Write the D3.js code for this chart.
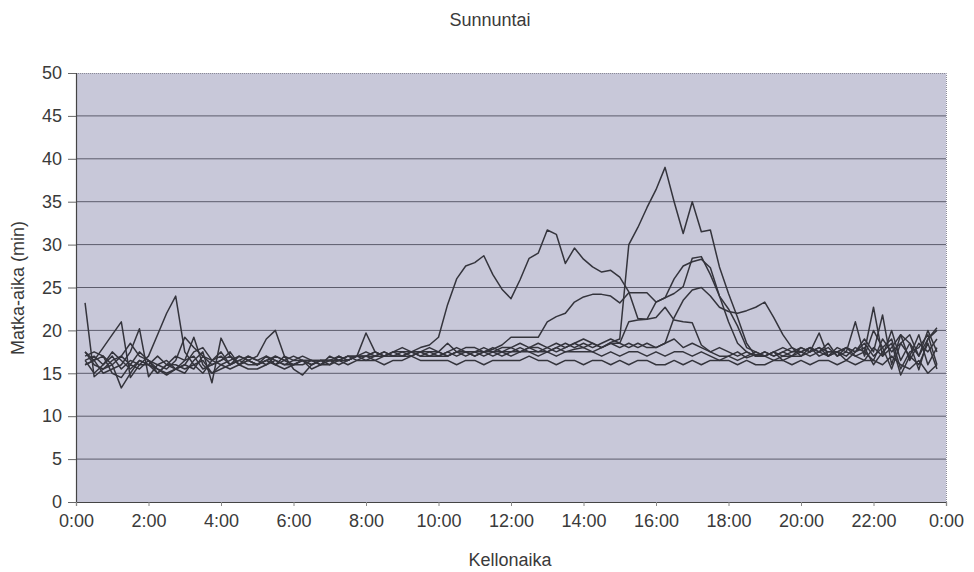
<!DOCTYPE html>
<html>
<head>
<meta charset="utf-8">
<script src="https://cdn.jsdelivr.net/npm/d3@7/dist/d3.min.js"></script>
<style>
  html, body { margin: 0; padding: 0; background: #ffffff; }
  svg { display: block; font-family: "Liberation Sans", Arial, sans-serif; }
</style>
</head>
<body>
<svg id="chart" width="974" height="572"></svg>
<script>
// Travel time (minutes) measured every 15 minutes from 0:15 to 23:45, one row per hour.
const title = "Sunnuntai";
const yTitle = "Matka-aika (min)";
const xTitle = "Kellonaika";
const yTicks = [0, 5, 10, 15, 20, 25, 30, 35, 40, 45, 50];
const xTickHours = [0, 2, 4, 6, 8, 10, 12, 14, 16, 18, 20, 22, 24];
const xTickLabels = ["0:00","2:00","4:00","6:00","8:00","10:00","12:00","14:00","16:00","18:00","20:00","22:00","0:00"];

const series1 = [
  17.5, 16.0, 15.5,
  16.0, 17.0, 18.5, 17.0,
  16.5, 15.5, 14.8, 15.5,
  16.0, 17.5, 18.0, 16.5,
  16.0, 16.5, 17.0, 16.5,
  16.0, 17.0, 16.5, 16.0,
  16.5, 16.5, 16.0, 16.5,
  16.5, 17.0, 16.5, 17.0,
  17.0, 17.5, 17.0, 17.5,
  17.5, 17.5, 18.0, 18.3,
  19.2, 23.0, 26.0, 27.5,
  27.9, 28.7, 26.5, 24.8,
  23.7, 25.9, 28.4, 29.0,
  31.7, 31.2, 27.8, 29.6,
  28.3, 27.4, 26.8, 27.0,
  26.2, 24.5, 21.4, 21.3,
  21.5, 22.7, 21.2, 21.0,
  20.9, 18.3, 17.5, 17.0,
  17.0, 17.5, 16.8, 17.2,
  17.0, 17.5, 17.0, 17.5,
  17.5, 18.0, 17.0, 17.5,
  17.5, 17.0, 18.0, 17.5,
  16.5, 19.0, 17.5, 18.5,
  17.0, 19.5, 16.0, 18.0
];
const series2 = [
  16.5, 15.0, 16.0,
  17.0, 15.5, 16.5, 16.0,
  17.0, 19.5, 22.0, 24.0,
  17.5, 16.0, 15.0, 16.5,
  17.0, 16.0, 16.5, 17.0,
  16.5, 16.0, 17.0, 16.5,
  16.0, 16.5, 16.5, 16.0,
  16.5, 16.5, 17.0, 16.5,
  17.0, 16.5, 17.0, 17.0,
  17.0, 17.5, 17.0, 17.5,
  17.5, 17.0, 17.5, 17.5,
  17.0, 17.5, 17.5, 17.0,
  17.5, 17.5, 18.0, 17.5,
  17.5, 18.0, 17.5, 17.8,
  18.0, 17.5, 18.0, 18.6,
  19.0, 30.0, 32.0, 34.3,
  36.4, 39.0, 35.0, 31.3,
  35.0, 31.5, 31.7, 27.4,
  24.3, 21.5, 18.5, 17.0,
  17.0, 16.5, 17.0, 17.0,
  17.5, 17.0, 17.5, 18.0,
  17.0, 17.5, 17.0, 16.5,
  18.0, 17.0, 20.0, 16.5,
  18.5, 17.0, 19.0, 20.0
];
const series3 = [
  17.0, 17.5, 17.0,
  16.0, 13.3, 15.0, 16.5,
  16.0, 17.0, 16.0, 15.5,
  16.5, 19.2, 16.0, 15.0,
  15.5, 16.0, 17.0, 16.5,
  17.0, 19.0, 20.0, 17.0,
  15.5, 14.8, 16.0, 16.5,
  16.5, 16.0, 16.5, 17.0,
  17.0, 17.0, 17.5, 17.0,
  17.0, 17.5, 17.0, 17.0,
  17.5, 17.0, 17.5, 17.0,
  17.5, 17.5, 17.8, 18.3,
  19.2, 19.2, 19.2, 19.2,
  21.0, 21.6, 22.0, 23.3,
  23.9, 24.2, 24.2, 24.0,
  23.2, 24.4, 24.4, 24.4,
  23.3, 23.8, 24.3, 25.1,
  28.4, 28.6, 26.5, 24.0,
  22.5, 20.5, 18.0, 17.5,
  17.0, 17.5, 16.5, 17.0,
  17.0, 17.5, 18.0, 17.0,
  17.5, 18.0, 17.5, 18.5,
  17.0, 18.0, 19.0, 15.5,
  17.5, 18.0, 19.5, 16.0
];
const series4 = [
  16.0, 16.5, 15.0,
  15.5, 16.0, 17.5, 20.2,
  14.6, 16.0, 16.5, 15.5,
  15.0, 16.5, 17.5, 13.9,
  19.1, 17.0, 16.0, 16.5,
  16.0, 16.5, 17.0, 16.5,
  16.0, 16.5, 16.0, 16.5,
  16.5, 16.5, 17.0, 17.0,
  19.7, 17.5, 17.0, 17.5,
  17.0, 17.5, 17.5, 17.0,
  17.0, 17.5, 17.0, 17.5,
  17.5, 17.0, 17.5, 17.5,
  17.5, 18.0, 17.5, 17.5,
  18.0, 17.5, 18.0, 18.5,
  18.0, 18.5, 18.0, 18.5,
  18.5, 21.0, 21.2, 21.3,
  23.3, 23.8, 26.0, 27.5,
  28.0, 28.3, 27.3, 24.0,
  21.0, 18.5, 17.5, 17.0,
  17.5, 17.0, 17.5, 17.0,
  18.0, 17.5, 19.7, 17.0,
  17.5, 18.0, 17.0, 17.5,
  22.7, 17.0, 18.0, 19.5,
  16.5, 18.5, 17.5, 19.0
];
const series5 = [
  16.5, 17.0, 16.0,
  17.5, 16.5, 15.5, 16.5,
  16.0, 15.0, 16.0, 17.0,
  16.5, 17.0, 15.5, 16.0,
  16.5, 17.0, 16.0, 17.0,
  16.5, 17.0, 16.0, 16.5,
  17.0, 16.5, 16.5, 16.0,
  17.0, 16.5, 17.0, 17.0,
  17.5, 17.0, 17.5, 17.0,
  17.5, 17.0, 17.5, 17.5,
  17.0, 17.5, 18.0, 17.5,
  17.5, 18.0, 17.5, 18.0,
  18.0, 17.5, 18.0, 18.0,
  17.5, 18.0, 18.5, 18.0,
  18.5, 18.0, 18.5, 19.0,
  18.5, 18.0, 18.5, 18.0,
  18.0, 18.5, 21.5, 23.5,
  24.7, 25.0, 24.0, 22.7,
  22.2, 22.0, 22.3, 22.7,
  23.3, 21.5, 19.5, 18.0,
  17.0, 18.0, 17.5, 17.0,
  18.0, 17.5, 21.0, 17.0,
  20.0, 18.0, 15.5, 18.5,
  19.5, 17.0, 20.0, 17.5
];
const series6 = [
  23.2, 14.6, 15.5,
  16.5, 17.0, 16.0, 17.5,
  16.5, 16.0, 15.5, 16.5,
  19.2, 18.0, 17.0, 16.5,
  17.5, 16.0, 16.5, 16.0,
  16.0, 16.5, 16.0, 17.0,
  16.5, 17.0, 16.5, 16.5,
  16.0, 17.0, 16.5, 17.0,
  17.0, 17.5, 17.0, 17.5,
  18.0, 17.5, 17.5, 18.0,
  17.5, 18.5, 17.5, 18.0,
  18.0, 17.5, 18.0, 17.5,
  18.0, 18.5, 18.0, 18.5,
  18.0, 18.5, 18.0, 18.5,
  19.0, 18.5, 18.0, 18.5,
  18.0, 18.5, 18.0, 18.5,
  18.0, 18.5, 19.0, 18.0,
  18.5, 18.0, 17.5, 18.0,
  17.5, 17.0, 17.5, 17.0,
  17.5, 17.0, 17.5, 18.0,
  17.5, 18.0, 17.5, 18.5,
  17.0, 18.0, 17.5, 19.0,
  17.5, 21.8, 16.0, 19.5,
  18.5, 15.4, 19.0, 20.3
];
const series7 = [
  17.5, 16.5, 18.0,
  19.5, 21.0, 14.5, 16.0,
  16.0, 15.5, 15.0, 15.5,
  16.0, 15.5, 17.0, 16.0,
  16.5, 17.5, 16.0, 16.5,
  16.0, 16.5, 16.0, 15.5,
  16.0, 16.0, 16.5, 16.5,
  16.5, 16.5, 16.5, 17.0,
  16.5, 17.0, 17.0, 17.0,
  17.0, 17.0, 17.5, 17.0,
  17.0, 17.0, 17.5, 17.5,
  17.0, 17.5, 17.0, 17.5,
  17.0, 17.5, 17.5, 17.0,
  17.5, 17.0, 17.5, 17.5,
  17.5, 17.5, 17.0, 17.5,
  17.0, 17.5, 17.5, 17.0,
  17.5, 17.0, 17.5, 17.5,
  17.0, 17.5, 17.0, 16.5,
  17.0, 16.5, 17.0, 17.5,
  17.0, 17.5, 18.0, 17.5,
  18.0, 17.5, 18.0, 17.5,
  17.5, 16.5, 17.5, 18.0,
  16.0, 17.5, 18.5, 14.8,
  17.0, 16.0, 18.5, 15.5
];
const series8 = [
  16.0, 16.5, 17.0,
  15.0, 14.5, 16.0, 15.5,
  16.5, 15.0, 16.0, 16.0,
  15.5, 16.0, 16.5, 15.0,
  16.0, 15.5, 16.0, 15.5,
  15.5, 16.0, 16.5, 16.0,
  16.0, 16.5, 15.5, 16.0,
  16.0, 16.5, 16.0, 16.5,
  16.5, 16.5, 16.0, 16.5,
  16.5, 17.0, 16.5, 16.5,
  16.5, 16.5, 16.0, 16.5,
  16.5, 16.0, 16.5, 16.5,
  16.5, 16.5, 17.0, 16.5,
  16.5, 16.0, 16.5, 16.5,
  16.0, 16.5, 16.5, 16.0,
  16.5, 16.0, 16.5, 16.5,
  16.0, 16.0, 16.5, 16.0,
  16.5, 16.0, 16.5, 16.5,
  16.5, 16.0, 16.5, 16.0,
  16.0, 16.5, 16.5, 16.0,
  16.5, 16.0, 16.5, 16.5,
  16.0, 16.5, 16.0, 16.5,
  16.5, 16.0, 17.0, 16.0,
  15.5, 16.5, 15.0, 16.0
];
const allSeries = [series1, series2, series3, series4, series5, series6, series7, series8];

// Sample times in hours: 0:15, 0:30, ..., 23:45
const sampleHours = d3.range(1, 96).map(i => i / 4);

const svg = d3.select("#chart");
const plot = { left: 76, right: 946, top: 73, bottom: 502 };
const fontSize = 18;
const textColor = "#3a3a3a";

const x = d3.scaleLinear().domain([0, 24]).range([plot.left, plot.right]);
const y = d3.scaleLinear().domain([0, 50]).range([plot.bottom, plot.top]);

// Plot area
svg.append("rect")
  .attr("x", plot.left).attr("y", plot.top)
  .attr("width", plot.right - plot.left).attr("height", plot.bottom - plot.top)
  .attr("fill", "#c8c8d9");

// Horizontal gridlines
svg.append("g")
  .selectAll("line")
  .data(yTicks.filter(v => v > 0 && v < 50))
  .join("line")
  .attr("x1", plot.left).attr("x2", plot.right)
  .attr("y1", d => y(d)).attr("y2", d => y(d))
  .attr("stroke", "#5c5c6c").attr("stroke-width", 1);

// Top and right frame (dotted)
svg.append("path")
  .attr("d", `M${plot.left},${plot.top + 0.5}H${plot.right + 0.5}V${plot.bottom}`)
  .attr("fill", "none").attr("stroke", "#8a8a96").attr("stroke-width", 1)
  .attr("stroke-dasharray", "1,1");

// Series lines
const line = d3.line()
  .x((d, i) => x(sampleHours[i]))
  .y(d => y(d));

svg.append("g")
  .selectAll("path")
  .data(allSeries)
  .join("path")
  .attr("d", d => line(d))
  .attr("fill", "none")
  .attr("stroke", "#34343c")
  .attr("stroke-width", 1.5)
  .attr("stroke-linejoin", "round");

// Y axis
const yAxis = d3.axisLeft(y).tickValues(yTicks).tickSize(8).tickPadding(6);
const gy = svg.append("g").attr("transform", `translate(${plot.left},0)`).call(yAxis);
gy.select(".domain").attr("stroke", "#444").attr("stroke-width", 1.2);
gy.selectAll(".tick line").attr("stroke", "#666");
gy.selectAll(".tick text").attr("font-size", fontSize).attr("fill", textColor)
  .attr("font-family", "'Liberation Sans', Arial, sans-serif");

// X axis
const xAxis = d3.axisBottom(x).tickValues(xTickHours)
  .tickFormat((d, i) => xTickLabels[i]).tickSize(4).tickPadding(8);
const gx = svg.append("g").attr("transform", `translate(0,${plot.bottom})`).call(xAxis);
gx.select(".domain").attr("stroke", "#444").attr("stroke-width", 1.2);
gx.selectAll(".tick line").attr("stroke", "#888");
gx.selectAll(".tick text").attr("font-size", fontSize).attr("fill", textColor)
  .attr("font-family", "'Liberation Sans', Arial, sans-serif");

// Titles
svg.append("text")
  .attr("x", 490).attr("y", 26)
  .attr("text-anchor", "middle")
  .attr("font-size", fontSize).attr("fill", textColor)
  .text(title);

svg.append("text")
  .attr("x", 510).attr("y", 566)
  .attr("text-anchor", "middle")
  .attr("font-size", fontSize).attr("fill", textColor)
  .text(xTitle);

svg.append("text")
  .attr("transform", "translate(24,288) rotate(-90)")
  .attr("text-anchor", "middle")
  .attr("font-size", fontSize).attr("fill", textColor)
  .text(yTitle);
</script>
</body>
</html>
